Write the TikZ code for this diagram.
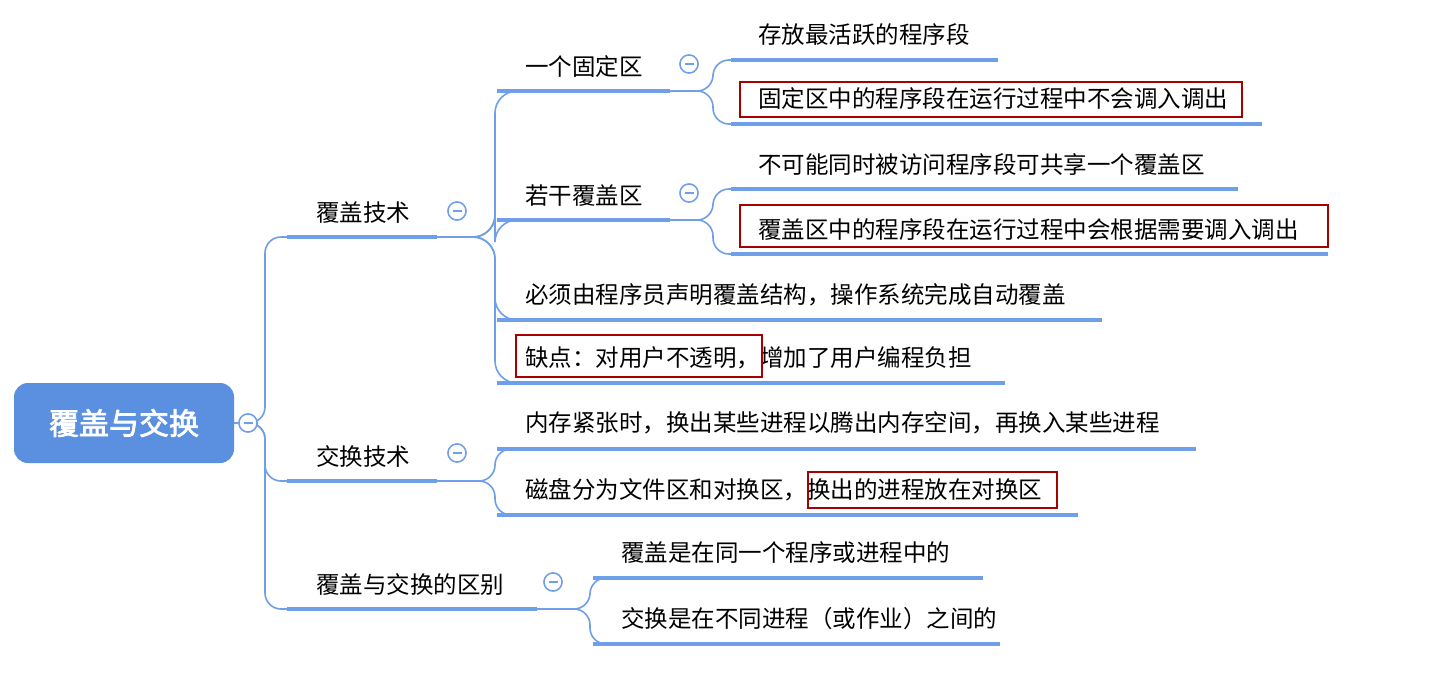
\documentclass[tikz,border=0pt]{standalone}
\usepackage{fontspec}
\setmainfont{Noto Sans CJK SC}[AutoFakeBold=2.5]
\begin{document}
\begin{tikzpicture}[x=1pt,y=-1pt,
  ul/.style={line width=4pt,draw=ulc},
  con/.style={line width=1.6pt,draw=ulc,rounded corners=16pt},
  txt/.style={font=\fontsize{23.5}{26}\selectfont,text=black,inner sep=0pt},
  redbox/.style={draw=red!65!black,line width=2.2pt},
  coll/.style={circle,draw=ulc,line width=1.4pt,fill=white,minimum size=18pt,inner sep=0pt}]
\definecolor{ulc}{HTML}{6F9FE8}
\definecolor{rootc}{HTML}{5B8FE0}
\useasboundingbox (0,0) rectangle (1432,672);
\fill[white] (0,0) rectangle (1432,672);
% root
\node[fill=rootc,rounded corners=14pt,minimum width=220pt,minimum height=80pt,text=white,font=\fontsize{30}{34}\selectfont\bfseries] (root) at (124,423) {覆盖与交换};
% level-1 underlines
\coordinate (a1s) at (287,237); \coordinate (a1e) at (437,237);
\coordinate (a2s) at (287,481); \coordinate (a2e) at (437,481);
\coordinate (a3s) at (287,609); \coordinate (a3e) at (537,609);
% level-2 (覆盖技术)
\coordinate (b1s) at (497,91);  \coordinate (b1e) at (670,91);
\coordinate (b2s) at (497,220); \coordinate (b2e) at (670,220);
\coordinate (b3s) at (497,320); \coordinate (b3e) at (1102,320);
\coordinate (b4s) at (497,383); \coordinate (b4e) at (1005,383);
% level-3
\coordinate (c1s) at (731,60);  \coordinate (c1e) at (998,60);
\coordinate (c2s) at (731,124); \coordinate (c2e) at (1262,124);
\coordinate (c3s) at (731,189); \coordinate (c3e) at (1238,189);
\coordinate (c4s) at (731,254); \coordinate (c4e) at (1328,254);
% 交换技术 children
\coordinate (d1s) at (497,449); \coordinate (d1e) at (1196,449);
\coordinate (d2s) at (497,515); \coordinate (d2e) at (1078,515);
% 区别 children
\coordinate (e1s) at (593,578); \coordinate (e1e) at (983,578);
\coordinate (e2s) at (593,644); \coordinate (e2e) at (1000,644);
% connectors
\node[coll] (k0) at (248,423) {};
\draw[con] (root.east) -- (k0.west);
\foreach \t in {a1s,a2s,a3s} \draw[con] (k0.east) -| (265,0 |- \t) -- (\t);
\node[coll] (k1) at (457,211) {};
\node[coll] (k2) at (457,453) {};
\node[coll] (k3) at (553,582) {};
\node[coll] (k4) at (689,64) {};
\node[coll] (k5) at (689,193) {};
\foreach \t in {b1s,b2s,b3s,b4s} \draw[con,rounded corners=22pt] (a1e) -| (495,0 |- \t) -- (\t);
\foreach \t in {d1s,d2s} \draw[con] (a2e) -| (495,0 |- \t) -- (\t);
\foreach \t in {e1s,e2s} \draw[con] (a3e) -| (590,0 |- \t) -- (\t);
\foreach \t in {c1s,c2s} \draw[con] (b1e) -| (713,0 |- \t) -- (\t);
\foreach \t in {c3s,c4s} \draw[con] (b2e) -| (713,0 |- \t) -- (\t);
\foreach \n in {k0,k1,k2,k3,k4,k5} {\node[coll] at (\n) {}; \draw[ulc,line width=1.4pt] ([xshift=-4.5pt]\n.center) -- ([xshift=4.5pt]\n.center);}
% underlines
\foreach \s/\e in {a1s/a1e,a2s/a2e,a3s/a3e,b1s/b1e,b2s/b2e,b3s/b3e,b4s/b4e,c1s/c1e,c2s/c2e,c3s/c3e,c4s/c4e,d1s/d1e,d2s/d2e,e1s/e1e,e2s/e2e} \draw[ul] (\s) -- (\e);
% texts
\node[txt,anchor=west] (t1) at (316,213) {覆盖技术};
\node[txt,anchor=west] (t2) at (316,456) {交换技术};
\node[txt,anchor=west] (t3) at (316,585) {覆盖与交换的区别};
\node[txt,anchor=west] (t4) at (525,67) {一个固定区};
\node[txt,anchor=west] (t5) at (525,196) {若干覆盖区};
\node[txt,anchor=west] (t6) at (525,295) {必须由程序员声明覆盖结构，操作系统完成自动覆盖};
\node[txt,anchor=west] (t7) at (525,358) {缺点：对用户不透明，增加了用户编程负担};
\node[txt,anchor=west] (t8) at (758,35) {存放最活跃的程序段};
\node[txt,anchor=west] (t9) at (758,99) {固定区中的程序段在运行过程中不会调入调出};
\node[txt,anchor=west] (t10) at (758,165) {不可能同时被访问程序段可共享一个覆盖区};
\node[txt,anchor=west] (t11) at (758,230) {覆盖区中的程序段在运行过程中会根据需要调入调出};
\node[txt,anchor=west] (t12) at (525,423) {内存紧张时，换出某些进程以腾出内存空间，再换入某些进程};
\node[txt,anchor=west] (t13) at (525,490) {磁盘分为文件区和对换区，换出的进程放在对换区};
\node[txt,anchor=west] (t14) at (621,553) {覆盖是在同一个程序或进程中的};
\node[txt,anchor=west] (t15) at (621,619) {交换是在不同进程（或作业）之间的};
% red boxes
\draw[redbox] (740,82) rectangle (1242,117);
\draw[redbox] (740,205) rectangle (1328,247);
\draw[redbox] (516,335) rectangle (762,377);
\draw[redbox] (808,472) rectangle (1057,508);
\end{tikzpicture}
\end{document}
